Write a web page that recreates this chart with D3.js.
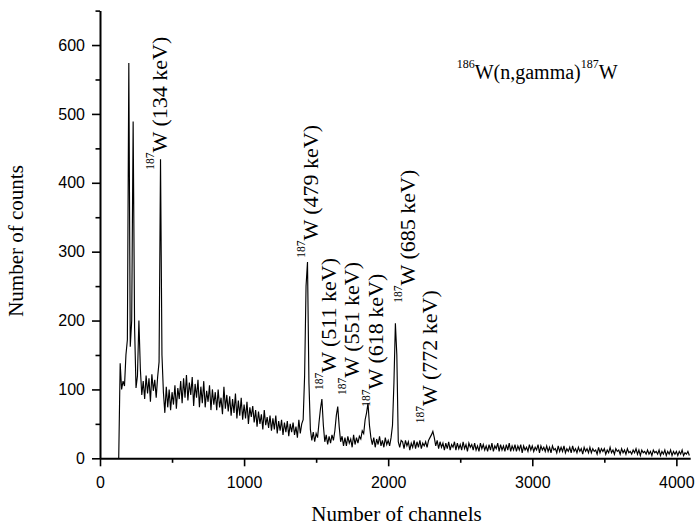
<!DOCTYPE html>
<html>
<head>
<meta charset="utf-8">
<script src="https://cdn.jsdelivr.net/npm/d3@7"></script>
<style>
  html, body { margin: 0; padding: 0; background: #fff; }
  svg { display: block; }
</style>
</head>
<body>
<svg id="chart" width="696" height="525"></svg>
<script>
// ---------------- DATA ----------------
const startChannel = 130;
const channelStep = 10;

// counts per channel, channels 130 .. 1390
const countsLow = [
  0, 138, 100, 112, 105, 150, 172, 574, 162, 200,
  489, 190, 102, 120, 200, 130, 92,
  112, 86, 120, 94, 116, 82, 122, 98, 114, 88,
  118, 140, 434, 150, 96, 66, 104, 74, 100, 70,
  96, 78, 106, 72, 102, 86, 112, 80, 116, 88,
  121, 84, 110, 92, 118, 76, 108, 88, 114, 74,
  104, 80, 112, 74, 98, 82, 106, 70, 100, 78,
  96, 70, 100, 74, 88, 64, 104, 72, 92, 68,
  90, 62, 86, 66, 94, 58, 84, 62, 88, 56,
  78, 58, 82, 50, 74, 60, 76, 52, 70, 46,
  68, 50, 64, 42, 70, 48, 60, 44, 62, 40,
  58, 42, 62, 36, 54, 40, 56, 34, 52, 38,
  54, 32, 50, 38, 52, 34, 46, 30, 56, 36
];
// channels 1400 .. 2390 (photo-peak region)
const countsMid = [
  50, 56, 120, 250, 285, 110, 42, 26, 38, 24,
  36, 30, 52, 72, 86, 48, 24, 34, 20, 32,
  22, 34, 26, 40, 62, 75, 46, 24, 32, 18,
  30, 18, 32, 22, 28, 16, 34, 20, 30, 22,
  32, 28, 40, 36, 56, 66, 80, 48, 30, 20,
  30, 16, 28, 20, 32, 18, 26, 16, 30, 20,
  26, 18, 30, 48, 110, 196, 150, 24, 16, 26,
  24, 14, 26, 18, 24, 12, 22, 16, 26, 14,
  24, 16, 26, 14, 22, 18, 24, 16, 26, 30,
  34, 39, 30, 18, 26, 14, 24, 16, 22, 12
];
// channels 2400 .. 4090 (tail)
const countsTail = [
  22, 14, 24, 12, 20, 16, 24, 12, 22, 14,
  20, 12, 24, 14, 20, 10, 22, 16, 20, 12,
  22, 12, 18, 10, 22, 14, 20, 12, 18, 10,
  20, 12, 22, 10, 18, 14, 22, 10, 20, 12,
  18, 10, 20, 12, 22, 10, 18, 12, 20, 10,
  18, 12, 20, 8, 18, 12, 16, 10, 20, 12,
  18, 10, 16, 12, 20, 8, 18, 12, 16, 10,
  18, 10, 16, 8, 18, 12, 14, 8, 18, 10,
  16, 10, 18, 8, 14, 10, 16, 8, 18, 10,
  14, 8, 16, 10, 14, 6, 16, 10, 14, 8,
  16, 8, 14, 10, 12, 6, 16, 8, 14, 10,
  14, 6, 12, 8, 16, 8, 12, 6, 14, 10,
  12, 6, 14, 8, 12, 6, 14, 8, 10, 6,
  12, 8, 14, 6, 12, 4, 12, 8, 10, 6,
  12, 6, 10, 4, 12, 8, 10, 6, 12, 4,
  10, 6, 12, 4, 10, 6, 12, 4, 10, 6,
  10, 4, 10, 6, 12, 4, 8, 6, 10, 4
];

const xMajorTicks = [0, 1000, 2000, 3000, 4000];
const xMinorTicks = [500, 1500, 2500, 3500];
const yMajorTicks = [0, 100, 200, 300, 400, 500, 600];
const yMinorTicks = [50, 150, 250, 350, 450, 550, 650];

const peakIsotope = "187";
const peakEnergies = [134, 479, 511, 551, 618, 685, 772];
// annotation anchors in data units (channel, counts)
const labelChannels = [465, 1513, 1638, 1798, 1964, 2186, 2339];
const labelCounts = [419, 291, 99, 92, 75, 226, 51];

const titleParts = ["186", "W(n,gamma)", "187", "W"];
const xTitle = "Number of channels";
const yTitle = "Number of counts";

// ---------------- CHART ----------------
const counts = countsLow.concat(countsMid, countsTail);
const spectrum = counts.map((c, i) => ({ ch: startChannel + i * channelStep, c }));

const svg = d3.select("#chart");
const W = 696, H = 525;
svg.append("rect").attr("width", W).attr("height", H).attr("fill", "#fff");

const x = d3.scaleLinear().domain([0, 4096]).range([100, 690.2]);
const y = d3.scaleLinear().domain([0, 650]).range([458.3, 10.6]);

const sans = "'Liberation Sans', Arial, Helvetica, sans-serif";
const serif = "'Liberation Serif', 'Times New Roman', Times, serif";

// spectrum
const line = d3.line().x(d => x(d.ch)).y(d => y(d.c));
svg.append("path")
  .datum(spectrum)
  .attr("d", line)
  .attr("fill", "none")
  .attr("stroke", "#000")
  .attr("stroke-width", 1.15)
  .attr("stroke-linejoin", "miter");

// axes
const gx = svg.append("g").attr("transform", `translate(0,${y(0)})`)
  .call(d3.axisBottom(x).tickValues(xMajorTicks).tickSize(8).tickSizeOuter(0).tickPadding(10).tickFormat(d3.format("d")));
const gxm = svg.append("g").attr("transform", `translate(0,${y(0)})`)
  .call(d3.axisBottom(x).tickValues(xMinorTicks).tickSize(4.5).tickFormat(""));
gxm.select(".domain").remove();

const gy = svg.append("g").attr("transform", `translate(${x(0)},0)`)
  .call(d3.axisLeft(y).tickValues(yMajorTicks).tickSize(8).tickSizeOuter(0).tickPadding(7).tickFormat(d3.format("d")));
const gym = svg.append("g").attr("transform", `translate(${x(0)},0)`)
  .call(d3.axisLeft(y).tickValues(yMinorTicks).tickSize(4.5).tickFormat(""));
gym.select(".domain").remove();

svg.selectAll(".domain").attr("stroke", "#000").attr("stroke-width", 2);
svg.selectAll(".tick line").attr("stroke", "#000").attr("stroke-width", 1.6);
svg.selectAll(".tick text").attr("font-family", sans).attr("font-size", 16).attr("fill", "#000");

// axis titles
svg.append("text")
  .attr("x", 396.5).attr("y", 521)
  .attr("text-anchor", "middle")
  .attr("font-family", serif).attr("font-size", 21)
  .text(xTitle);
svg.append("text")
  .attr("transform", "translate(23,241) rotate(-90)")
  .attr("text-anchor", "middle")
  .attr("font-family", serif).attr("font-size", 21)
  .text(yTitle);

// reaction title
const t = svg.append("text")
  .attr("x", 456.7).attr("y", 79.3)
  .attr("font-family", serif).attr("font-size", 20);
t.append("tspan").attr("font-size", 12).attr("dy", -11).text(titleParts[0]);
t.append("tspan").attr("dy", 11).text(titleParts[1]);
t.append("tspan").attr("font-size", 12).attr("dy", -11).text(titleParts[2]);
t.append("tspan").attr("dy", 11).text(titleParts[3]);

// peak labels
peakEnergies.forEach((e, i) => {
  const lx = x(labelChannels[i]), ly = y(labelCounts[i]);
  const tx = svg.append("text")
    .attr("transform", `translate(${lx},${ly}) rotate(-90)`)
    .attr("font-family", serif).attr("font-size", 22);
  tx.append("tspan").attr("font-size", 11.5).attr("dy", -13).text(peakIsotope);
  tx.append("tspan").attr("dy", 13).text(`W (${e} keV)`);
});
</script>
</body>
</html>
